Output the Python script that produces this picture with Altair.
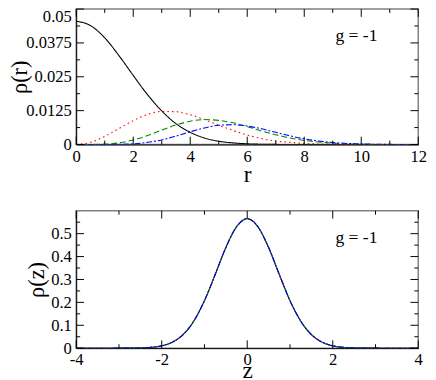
import altair as alt
import pandas as pd

SERIF = "Liberation Serif"

# ---------------- top panel: rho(r) ----------------
r_vals = [0, 0.5, 1, 1.5, 2, 2.5, 3, 3.5, 4, 4.5, 5, 5.5, 6, 6.5, 7, 7.5,
          8, 8.5, 9, 9.5, 10, 10.5, 11, 11.5, 12]
rho_r_black = [0.0455, 0.0439, 0.0394, 0.0328, 0.0255, 0.0184, 0.0124, 0.0077,
               0.0045, 0.0024, 0.0012, 0.0006, 0.00025, 0.0001, 0.00004, 0.0,
               0.0, 0.0, 0.0, 0.0, 0.0, 0.0, 0.0, 0.0, 0.0]
rho_r_red = [0.0, 0.0008, 0.0030, 0.0059, 0.0088, 0.0111, 0.0122, 0.0121,
             0.0110, 0.0092, 0.0071, 0.0052, 0.0035, 0.0022, 0.0013, 0.0008,
             0.0004, 0.0002, 0.0001, 0.0, 0.0, 0.0, 0.0, 0.0, 0.0]
rho_r_green = [0.0, 0.0, 0.00014, 0.0006, 0.0017, 0.0033, 0.0053, 0.0072,
               0.0086, 0.0092, 0.0089, 0.0080, 0.0066, 0.0050, 0.0036, 0.0024,
               0.0015, 0.0009, 0.0005, 0.0002, 0.0001, 0.0, 0.0, 0.0, 0.0]
rho_r_blue = [0.0, 0.0, 0.0, 0.00005, 0.00025, 0.0008, 0.0017, 0.0031,
              0.0047, 0.0061, 0.0071, 0.0073, 0.0068, 0.0058, 0.0045, 0.0032,
              0.0021, 0.0013, 0.00076, 0.0004, 0.0002, 0.0001, 0.00005, 0.0, 0.0]

# ---------------- bottom panel: rho(z) ----------------
z_vals = [-4, -3.75, -3.5, -3.25, -3, -2.75, -2.5, -2.25, -2, -1.75, -1.5, -1.25,
          -1, -0.75, -0.5, -0.25, 0, 0.25, 0.5, 0.75, 1, 1.25, 1.5, 1.75,
          2, 2.25, 2.5, 2.75, 3, 3.25, 3.5, 3.75, 4]
rho_z_all = [0.0, 0.0, 0.0, 0.0, 0.0001, 0.0003, 0.0011, 0.0036, 0.0103, 0.0264,
             0.0595, 0.1183, 0.2076, 0.3215, 0.4394, 0.530, 0.5655, 0.530, 0.4394,
             0.3215, 0.2076, 0.1183, 0.0595, 0.0264, 0.0103, 0.0036, 0.0011,
             0.0003, 0.0001, 0.0, 0.0, 0.0, 0.0]
# the four curves coincide in the bottom panel
rho_z_black = rho_z_all
rho_z_red = rho_z_all
rho_z_green = rho_z_all
rho_z_blue = rho_z_all

series_names = ["s0", "s1", "s2", "s3"]
series_colors = ["#000000", "#ff0000", "#008b00", "#0000ff"]
series_dash = [[1, 0], [1.6, 3.2], [6, 3], [6, 2, 2, 2]]

# ticks
r_major = [0, 2, 4, 6, 8, 10, 12]
r_minor = [1, 3, 5, 7, 9, 11]
rho_r_major = [0, 0.0125, 0.025, 0.0375, 0.05]
rho_r_minor = [0.00625, 0.01875, 0.03125, 0.04375]
z_major = [-4, -2, 0, 2, 4]
z_minor = [-3, -1, 1, 3]
rho_z_major = [0, 0.1, 0.2, 0.3, 0.4, 0.5]
rho_z_minor = [0.05, 0.15, 0.25, 0.35, 0.45, 0.55]

annotation = ["g = -1"]

W = 351
H_TOP = 139
H_BOT = 141


def long_df(xs, ys_list):
    rows = []
    for name, ys in zip(series_names, ys_list):
        for x, y in zip(xs, ys):
            rows.append({"x": x, "y": y, "series": name})
    return pd.DataFrame(rows)


def make_panel(xs, ys_list, xdom, ydom, xmaj, xmin, ymaj, ymin, xtitle, ytitle, H,
               flush_top, xtitle_pad, ytitle_pad):
    xscale = alt.Scale(domain=xdom, nice=False, zero=False)
    yscale = alt.Scale(domain=ydom, nice=False, zero=False)
    xaxis = alt.Axis(values=xmaj, labelExpr="'' + datum.value", ticks=False, tickSize=0,
                     labelPadding=4, labelFont=SERIF, labelFontSize=17,
                     labelColor="black", labelFlush=False,
                     title=xtitle, titleFont=SERIF, titleFontSize=24,
                     titleFontWeight="normal", titleColor="black", titlePadding=xtitle_pad,
                     domainColor="black", domainWidth=1, grid=False)
    yargs = dict(values=ymaj, labelExpr="'' + datum.value", ticks=False, tickSize=0,
                 labelPadding=5, labelFont=SERIF, labelFontSize=17,
                 labelColor="black", labelFlush=False,
                 title=ytitle, titleFont=SERIF, titleFontSize=23,
                 titleFontWeight="normal", titleColor="black", titlePadding=ytitle_pad,
                 domainColor="black", domainWidth=1, grid=False)
    if flush_top:
        yargs["labelBaseline"] = {"condition": {"test": "datum.value >= 0.049", "value": "top"},
                                  "value": "middle"}
    yaxis = alt.Axis(**yargs)

    def X(field):
        return alt.X(field, type="quantitative", scale=xscale, axis=xaxis)

    def Y(field):
        return alt.Y(field, type="quantitative", scale=yscale, axis=yaxis)

    lines = alt.Chart(long_df(xs, ys_list)).mark_line(
        strokeWidth=1.1, interpolate="monotone", clip=True
    ).encode(
        x=X("x"),
        y=Y("y"),
        color=alt.Color("series:N", scale=alt.Scale(domain=series_names, range=series_colors), legend=None),
        strokeDash=alt.StrokeDash("series:N", scale=alt.Scale(domain=series_names, range=series_dash), legend=None),
        order=alt.Order("x:Q"),
    )

    def xticks(vals, length):
        d = pd.DataFrame({"x": vals})
        b = alt.Chart(d).mark_rule(color="black", strokeWidth=1).encode(
            x=X("x"), y=alt.value(H), y2=alt.value(H - length))
        t = alt.Chart(d).mark_rule(color="black", strokeWidth=1).encode(
            x=X("x"), y=alt.value(0), y2=alt.value(length))
        return [b, t]

    def yticks(vals, length):
        d = pd.DataFrame({"y": vals})
        l = alt.Chart(d).mark_rule(color="black", strokeWidth=1).encode(
            y=Y("y"), x=alt.value(0), x2=alt.value(length))
        r = alt.Chart(d).mark_rule(color="black", strokeWidth=1).encode(
            y=Y("y"), x=alt.value(W), x2=alt.value(W - length))
        return [l, r]

    txt = alt.Chart(pd.DataFrame({"label": annotation})).mark_text(
        align="left", baseline="middle", font=SERIF, fontSize=18, color="black"
    ).encode(x=alt.value(266), y=alt.value(28), text="label:N")

    layers = [lines] + xticks(xmaj, 8) + xticks(xmin, 4) + yticks(ymaj, 8) + yticks(ymin, 4) + [txt]
    return alt.layer(*layers).properties(width=W, height=H)


top = make_panel(r_vals, [rho_r_black, rho_r_red, rho_r_green, rho_r_blue],
                 [0, 12], [0, 0.05], r_major, r_minor, rho_r_major, rho_r_minor,
                 "r", "\u03c1(r)", H_TOP, True, -1, -6)
bottom = make_panel(z_vals, [rho_z_black, rho_z_red, rho_z_green, rho_z_blue],
                    [-4, 4], [0, 0.6], z_major, z_minor, rho_z_major, rho_z_minor,
                    "z", "\u03c1(z)", H_BOT, False, -9, 2)

chart = alt.vconcat(top, bottom, spacing=22).properties(
    padding={"left": 0, "top": -6, "right": 0, "bottom": 8}
).configure_view(stroke="#808080", strokeWidth=1.5)

chart.save("out.html", embed_options={"renderer": "svg", "actions": False})
